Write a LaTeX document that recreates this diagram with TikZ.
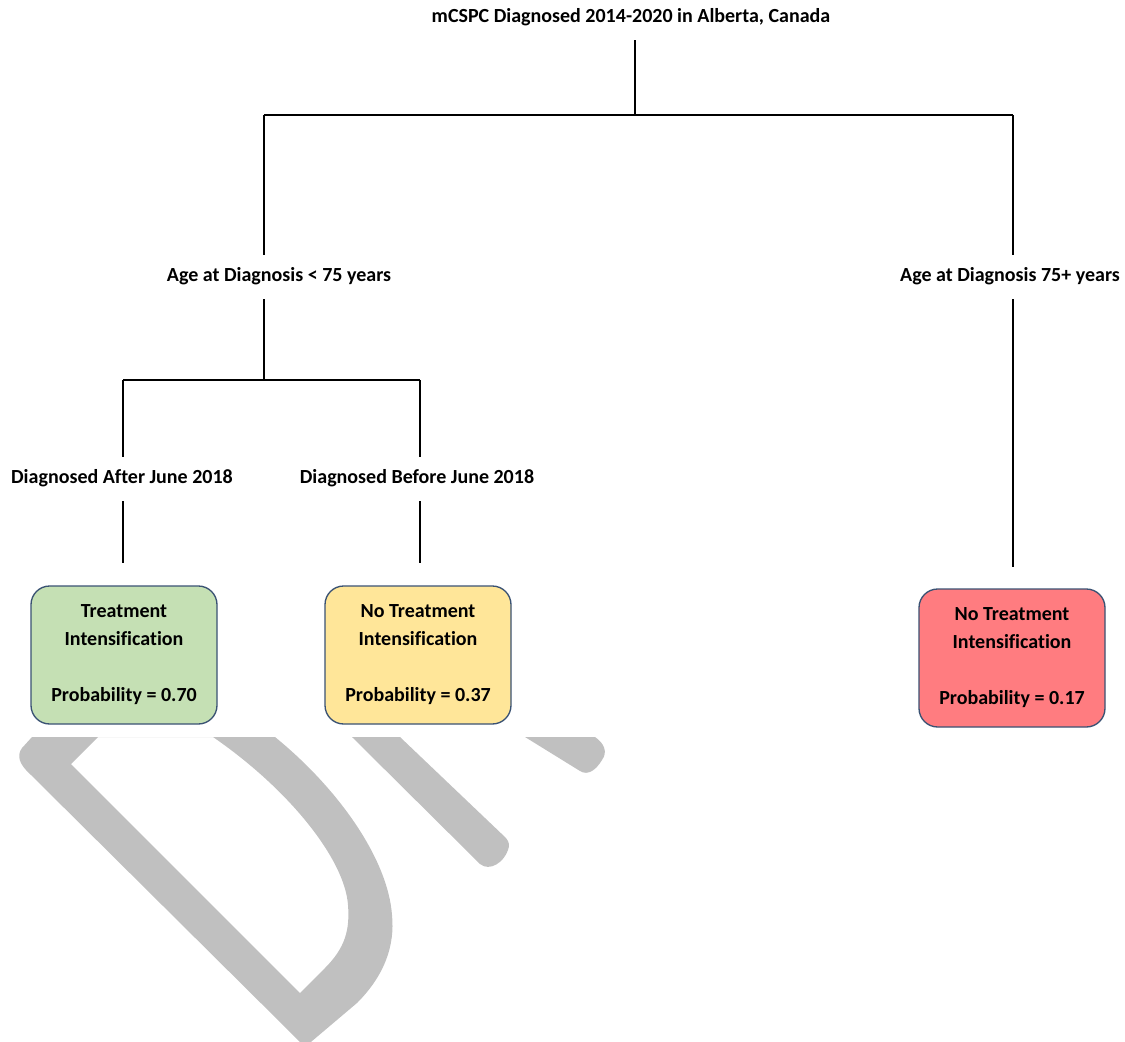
\documentclass[tikz,border=0pt]{standalone}
\usepackage{fontspec}
\setmainfont{Carlito}[Ligatures=NoCommon]
\usetikzlibrary{positioning,calc}

\definecolor{edgeblue}{HTML}{3A5273}
\definecolor{treatgreen}{HTML}{C5E0B4}
\definecolor{notreatyellow}{HTML}{FFE699}
\definecolor{notreatred}{HTML}{FF7C80}
\definecolor{markgray}{HTML}{C0C0C0}

\begin{document}
\begin{tikzpicture}[x=0.75pt, y=-0.75pt,
          treelabel/.style = {align=center, font=\fontsize{15}{18}\selectfont\bfseries,
            inner xsep=2pt, inner ysep=9pt, text height=11pt, text depth=4pt},
          leaf/.style = {rounded corners=14pt, draw=edgeblue, line width=1pt, align=center,
            font=\fontsize{15}{21}\selectfont\bfseries, inner sep=0pt,
            minimum width=139.5pt, minimum height=103.5pt},
          branch/.style = {draw=black, line width=1.5pt},
          watermark/.style = {fill=markgray, even odd rule}]
        \useasboundingbox (0,0) rectangle (1125,1042);

        % watermark
        \fill[watermark] (32,737) -- (22,748) .. controls (16,756) and (20,765) .. (30,774)
            -- (293,1035) -- (305,1047) -- (357,1003)
            .. controls (385,975) and (395,945) .. (392,915)
            .. controls (388,860) and (340,790) .. (275,737) -- cycle
            (98,737) -- (71,764) -- (300,993) -- (325,968)
            .. controls (345,948) and (350,930) .. (348,905)
            .. controls (345,860) and (290,790) .. (213,737) -- cycle;
        \fill[watermark] (352,737) -- (480,864) .. controls (490,872) and (504,862) .. (508,850)
            .. controls (510,845) and (509,842) .. (506,838) -- (400,737) -- cycle;
        \fill[watermark] (525,737) -- (580,771) .. controls (588,776) and (596,770) .. (602,760)
            .. controls (608,752) and (604,743) .. (595,737) -- cycle;

        \node[treelabel] (root) at (631,18) {mCSPC Diagnosed 2014-2020 in Alberta, Canada};
        \node[treelabel] (young) at (279,277) {Age at Diagnosis < 75 years};
        \node[treelabel] (old) at (1010,277) {Age at Diagnosis 75+ years};
        \node[treelabel] (after) at (122,479) {Diagnosed After June 2018};
        \node[treelabel] (before) at (417,479) {Diagnosed Before June 2018};

        \node[leaf, fill=treatgreen] (treat) at (124,655)
            {Treatment\\Intensification\\[21pt]Probability = 0.70};
        \node[leaf, fill=notreatyellow] (notreat) at (418,655)
            {No Treatment\\Intensification\\[21pt]Probability = 0.37};
        \node[leaf, fill=notreatred] (notreatold) at (1012,658)
            {No Treatment\\Intensification\\[21pt]Probability = 0.17};

        \coordinate (j1) at (635,115);
        \coordinate (j1l) at (264,115);
        \coordinate (j1r) at (1013,115);
        \coordinate (j2) at (264,380);
        \coordinate (j2l) at (123,380);
        \coordinate (j2r) at (420,380);

        \draw[branch] (j1 |- root.south) -- (j1);
        \draw[branch] (j1l) -- (j1r);
        \draw[branch] (j1l) -- (j1l |- young.north);
        \draw[branch] (j1r) -- (j1r |- old.north);
        \draw[branch] (j2 |- young.south) -- (j2);
        \draw[branch] (j2l) -- (j2r);
        \draw[branch] (j2l) -- (j2l |- after.north);
        \draw[branch] (j2r) -- (j2r |- before.north);
        \draw[branch, shorten >=17pt] (j2l |- after.south) -- (j2l |- treat.north);
        \draw[branch, shorten >=17pt] (j2r |- before.south) -- (j2r |- notreat.north);
        \draw[branch, shorten >=16pt] (j1r |- old.south) -- (j1r |- notreatold.north);
\end{tikzpicture}
\end{document}
